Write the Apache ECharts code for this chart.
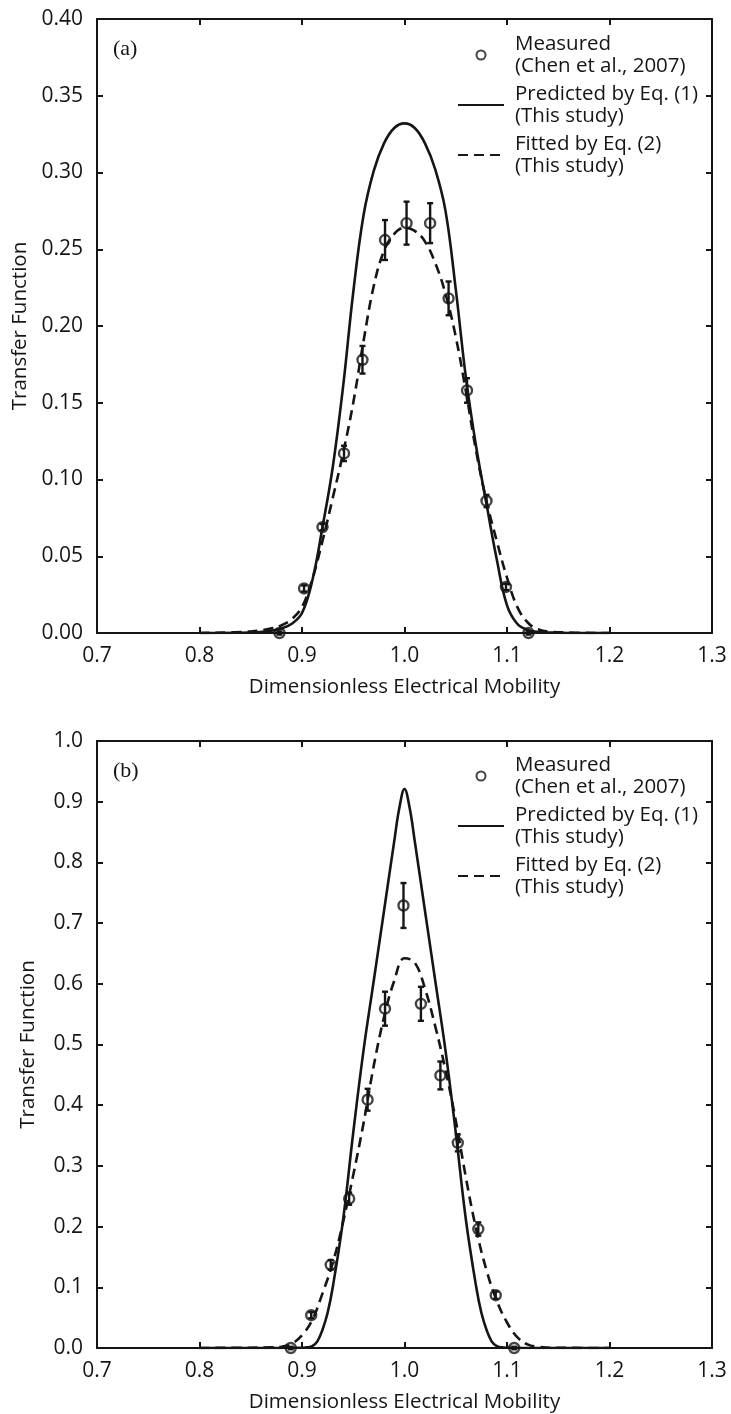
<!DOCTYPE html>
<html>
<head>
<meta charset="utf-8">
<script src="https://cdn.jsdelivr.net/npm/echarts@6/dist/echarts.min.js"></script>
<style>
  html, body { margin: 0; padding: 0; background: #fff; }
  #chart { width: 731px; height: 1414px; }
</style>
</head>
<body>
<div id="chart"></div>
<script>
// ---- Panel (a) ----
const measuredAX = [0.878, 0.902, 0.920, 0.941, 0.959, 0.981, 1.002, 1.025, 1.043, 1.061, 1.080, 1.099, 1.121];
const measuredAY = [0.000, 0.029, 0.069, 0.117, 0.178, 0.256, 0.267, 0.267, 0.218, 0.158, 0.086, 0.030, 0.000];
const measuredAErr = [0.001, 0.002, 0.002, 0.005, 0.009, 0.013, 0.014, 0.013, 0.011, 0.008, 0.004, 0.002, 0.001];

const predictedAX = [0.80, 0.85, 0.87, 0.88, 0.89, 0.90, 0.91, 0.92, 0.93, 0.94, 0.95, 0.96, 0.97, 0.98, 0.99, 1.00,
                     1.01, 1.02, 1.03, 1.04, 1.05, 1.06, 1.07, 1.08, 1.09, 1.10, 1.11, 1.12, 1.13, 1.15, 1.20];
const predictedAY = [0, 0.0003, 0.0015, 0.003, 0.006, 0.013, 0.034, 0.069, 0.108, 0.160, 0.222, 0.272, 0.301, 0.319, 0.329, 0.332,
                     0.329, 0.319, 0.302, 0.275, 0.224, 0.166, 0.121, 0.084, 0.048, 0.018, 0.006, 0.002, 0.0007, 0.0002, 0];

const fittedAX = [0.80, 0.85, 0.87, 0.88, 0.89, 0.90, 0.91, 0.92, 0.93, 0.94, 0.95, 0.96, 0.97, 0.98, 0.99, 1.00,
                  1.01, 1.02, 1.03, 1.04, 1.05, 1.06, 1.07, 1.08, 1.09, 1.10, 1.11, 1.12, 1.13, 1.15, 1.20];
const fittedAY = [0, 0.001, 0.003, 0.005, 0.009, 0.017, 0.035, 0.060, 0.088, 0.117, 0.150, 0.190, 0.226, 0.249, 0.260, 0.264,
                  0.262, 0.255, 0.241, 0.221, 0.193, 0.157, 0.118, 0.086, 0.060, 0.036, 0.017, 0.007, 0.0025, 0.0005, 0];

// ---- Panel (b) ----
const measuredBX = [0.889, 0.909, 0.928, 0.946, 0.964, 0.981, 0.999, 1.016, 1.035, 1.052, 1.072, 1.089, 1.107];
const measuredBY = [0.000, 0.054, 0.137, 0.246, 0.409, 0.559, 0.729, 0.567, 0.449, 0.338, 0.196, 0.087, 0.000];
const measuredBErr = [0.002, 0.005, 0.008, 0.010, 0.018, 0.028, 0.037, 0.028, 0.023, 0.014, 0.011, 0.006, 0.002];

const predictedBX = [0.80, 0.88, 0.90, 0.905, 0.91, 0.915, 0.92, 0.925, 0.93, 0.94, 0.95, 0.96, 0.97, 0.98, 0.99, 0.995, 1.00,
                     1.005, 1.01, 1.02, 1.03, 1.04, 1.05, 1.06, 1.07, 1.075, 1.08, 1.085, 1.09, 1.095, 1.10, 1.12, 1.20];
const predictedBY = [0, 0, 0.0005, 0.001, 0.003, 0.011, 0.030, 0.058, 0.100, 0.210, 0.355, 0.490, 0.605, 0.720, 0.835, 0.890, 0.921,
                     0.890, 0.835, 0.720, 0.605, 0.490, 0.355, 0.210, 0.100, 0.058, 0.030, 0.011, 0.003, 0.001, 0.0005, 0, 0];

const fittedBX = [0.80, 0.85, 0.87, 0.88, 0.89, 0.90, 0.91, 0.92, 0.93, 0.94, 0.95, 0.96, 0.97, 0.98, 0.99, 1.00,
                  1.01, 1.02, 1.03, 1.04, 1.05, 1.06, 1.07, 1.08, 1.09, 1.10, 1.11, 1.12, 1.13, 1.15, 1.20];
const fittedBY = [0, 0.0005, 0.001, 0.002, 0.007, 0.021, 0.046, 0.090, 0.140, 0.207, 0.285, 0.370, 0.465, 0.545, 0.605, 0.642,
                  0.635, 0.592, 0.530, 0.458, 0.375, 0.280, 0.195, 0.128, 0.078, 0.042, 0.018, 0.006, 0.002, 0.0003, 0];

// ---- Axis ticks and text ----
const xMin = 0.7, xMax = 1.3, xStep = 0.1;
const yAMax = 0.4, yAStep = 0.05;
const yBMax = 1.0, yBStep = 0.1;
const xTitle = 'Dimensionless Electrical Mobility';
const yTitle = 'Transfer Function';
const panelTags = ['(a)', '(b)'];
const legendText = {
  'Measured': 'Measured\n(Chen et al., 2007)',
  'Predicted': 'Predicted by Eq. (1)\n(This study)',
  'Fitted': 'Fitted by Eq. (2)\n(This study)'
};

const INK = '#151515';
const FONT = 'Open Sans';
const DASH = [10, 6];

const zip = (xs, ys) => xs.map((x, i) => [x, ys[i]]);
const zip3 = (xs, ys, es) => xs.map((x, i) => [x, ys[i], es[i]]);

// vertical error bar with short caps, value ± err
function errorBar(params, api) {
  const x = api.value(0), y = api.value(1), e = api.value(2);
  const hi = api.coord([x, y + e]);
  const lo = api.coord([x, y - e]);
  const cap = 3;
  const style = { stroke: INK, lineWidth: 2.4, fill: null };
  return {
    type: 'group',
    children: [
      { type: 'line', shape: { x1: hi[0], y1: hi[1], x2: lo[0], y2: lo[1] }, style },
      { type: 'line', shape: { x1: hi[0] - cap, y1: hi[1], x2: hi[0] + cap, y2: hi[1] }, style },
      { type: 'line', shape: { x1: lo[0] - cap, y1: lo[1], x2: lo[0] + cap, y2: lo[1] }, style }
    ]
  };
}

function xAxes(grid) {
  const base = {
    gridIndex: grid, type: 'value', min: xMin, max: xMax, interval: xStep,
    axisLine: { onZero: false, lineStyle: { color: INK, width: 2 } },
    axisTick: { inside: true, length: 6, lineStyle: { color: INK, width: 2 } },
    splitLine: { show: false }
  };
  return [
    Object.assign({}, base, {
      position: 'bottom',
      axisLabel: { formatter: v => v.toFixed(1), fontFamily: FONT, fontSize: 21, color: INK, margin: 13 },
      name: xTitle, nameLocation: 'middle', nameGap: 44,
      nameTextStyle: { fontFamily: FONT, fontSize: 20.5, color: INK }
    }),
    Object.assign({}, base, { position: 'top', axisLabel: { show: false } })
  ];
}

function yAxes(grid, max, step, digits) {
  const base = {
    gridIndex: grid, type: 'value', min: 0, max: max, interval: step,
    axisLine: { onZero: false, lineStyle: { color: INK, width: 2 } },
    axisTick: { inside: true, length: 6, lineStyle: { color: INK, width: 2 } },
    splitLine: { show: false }
  };
  return [
    Object.assign({}, base, {
      position: 'left',
      axisLabel: { formatter: v => v.toFixed(digits), fontFamily: FONT, fontSize: 21, color: INK, margin: 14 },
      name: yTitle, nameLocation: 'middle', nameGap: 58, nameRotate: 90,
      nameTextStyle: { fontFamily: FONT, fontSize: 20.5, color: INK }
    }),
    Object.assign({}, base, { position: 'right', axisLabel: { show: false } })
  ];
}

function panelSeries(xi, yi, measured, errs, predicted, fitted) {
  return [
    {
      name: 'Predicted', type: 'line', xAxisIndex: xi, yAxisIndex: yi,
      data: predicted, symbol: 'none', smooth: 0.4,
      lineStyle: { color: INK, width: 2.6 }, itemStyle: { color: INK }, z: 3
    },
    {
      name: 'Fitted', type: 'line', xAxisIndex: xi, yAxisIndex: yi,
      data: fitted, symbol: 'none', smooth: 0.4,
      lineStyle: { color: INK, width: 2.6, type: DASH }, itemStyle: { color: INK }, z: 3
    },
    {
      name: 'Error', type: 'custom', xAxisIndex: xi, yAxisIndex: yi,
      data: errs, renderItem: errorBar, encode: { x: 0, y: 1 }, z: 4, silent: true
    },
    {
      name: 'Measured', type: 'scatter', xAxisIndex: xi, yAxisIndex: yi,
      data: measured, symbol: 'circle', symbolSize: 10,
      itemStyle: { color: 'rgba(255,255,255,0)', borderColor: INK, borderWidth: 2.4 }, z: 5
    }
  ];
}

const hiddenMarker = { color: 'rgba(0,0,0,0)', borderWidth: 0 };

function legendAt(top) {
  return {
    orient: 'vertical', left: 457, top: top, padding: 0,
    itemWidth: 46, itemHeight: 9, itemGap: 6,
    selectedMode: false,
    data: [
      { name: 'Measured', icon: 'circle' },
      { name: 'Predicted', itemStyle: hiddenMarker },
      { name: 'Fitted', itemStyle: hiddenMarker }
    ],
    formatter: name => legendText[name],
    textStyle: { fontFamily: FONT, fontSize: 20.5, lineHeight: 22, color: INK, padding: [0, 0, 0, 6] }
  };
}

const chart = echarts.init(document.getElementById('chart'), null, { renderer: 'canvas' });

chart.setOption({
  animation: false,
  backgroundColor: '#fff',
  title: [
    { text: panelTags[0], left: 108, top: 33, textStyle: { fontFamily: 'Liberation Serif', fontSize: 22, fontWeight: 'normal', color: INK } },
    { text: panelTags[1], left: 108, top: 755, textStyle: { fontFamily: 'Liberation Serif', fontSize: 22, fontWeight: 'normal', color: INK } }
  ],
  legend: [legendAt(33), legendAt(754)],
  grid: [
    { left: 97, top: 19, width: 615, height: 614 },
    { left: 97, top: 741, width: 615, height: 612 }
  ],
  xAxis: [].concat(xAxes(0), xAxes(1)),
  yAxis: [].concat(yAxes(0, yAMax, yAStep, 2), yAxes(1, yBMax, yBStep, 1)),
  series: [].concat(
    panelSeries(0, 0, zip(measuredAX, measuredAY), zip3(measuredAX, measuredAY, measuredAErr),
                zip(predictedAX, predictedAY), zip(fittedAX, fittedAY)),
    panelSeries(2, 2, zip(measuredBX, measuredBY), zip3(measuredBX, measuredBY, measuredBErr),
                zip(predictedBX, predictedBY), zip(fittedBX, fittedBY))
  )
});
</script>
</body>
</html>
